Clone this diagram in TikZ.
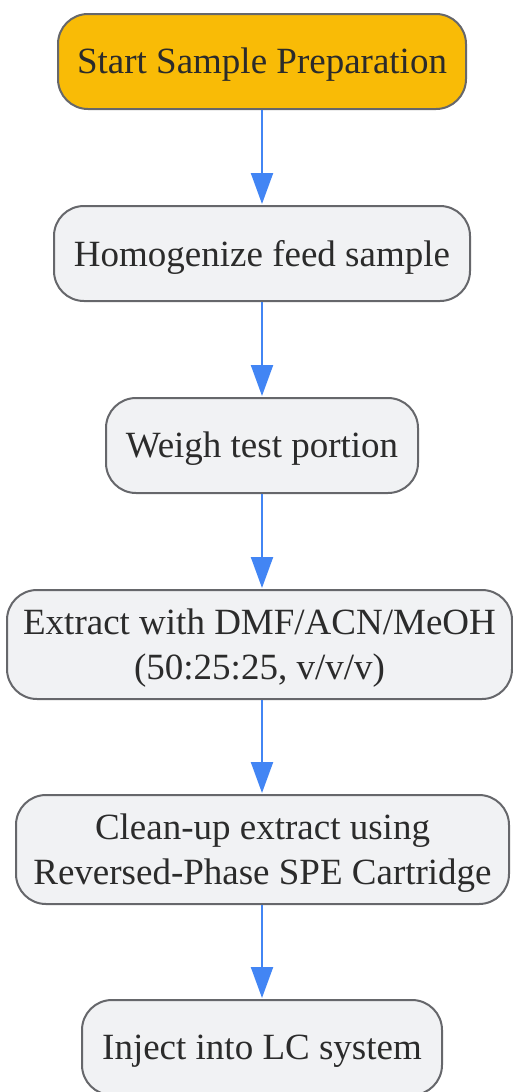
\documentclass[tikz,border=0pt]{standalone}
\usepackage{fontspec}
\setmainfont{Liberation Serif}
\usetikzlibrary{arrows.meta}
\definecolor{boxfill}{HTML}{F1F2F4}
\definecolor{boxline}{HTML}{66676B}
\definecolor{startfill}{HTML}{F9BB06}
\definecolor{arrowblue}{HTML}{4285F4}
\definecolor{txt}{HTML}{2B2B2B}
\tikzset{
  stepbox/.style={draw=boxline, line width=2pt, fill=boxfill, rounded corners=30pt, inner sep=0pt},
  startbox/.style={stepbox, fill=startfill},
  steptext/.style={align=center, text=txt, font=\fontsize{37}{45}\selectfont, inner sep=0pt, yshift=-3.5pt},
  flow/.style={draw=arrowblue, line width=2.2pt, -{Triangle[length=31pt,width=22pt]}, shorten >=1pt}
}
\begin{document}
\begin{tikzpicture}[x=1pt,y=-1pt]
\useasboundingbox (0,0) rectangle (513,1092);
\node[startbox, minimum width=408pt, minimum height=95pt] (n1) at (262,61.5) {};
\node[steptext] (t1) at (n1.center) {Start Sample Preparation};
\node[stepbox, minimum width=416pt, minimum height=95pt] (n2) at (262,253.5) {};
\node[steptext] (t2) at (n2.center) {Homogenize feed sample};
\node[stepbox, minimum width=312pt, minimum height=95pt] (n3) at (262,445.5) {};
\node[steptext] (t3) at (n3.center) {Weigh test portion};
\node[stepbox, minimum width=505pt, minimum height=109pt] (n4) at (259.5,644.5) {};
\node[steptext] (t4) at (n4.center) {Extract with DMF/ACN/MeOH\\(50:25:25, v/v/v)};
\node[stepbox, minimum width=493pt, minimum height=109pt] (n5) at (262.5,849.5) {};
\node[steptext] (t5) at (n5.center) {Clean-up extract using\\Reversed-Phase SPE Cartridge};
\node[stepbox, minimum width=360pt, minimum height=95pt] (n6) at (262,1047.5) {};
\node[steptext] (t6) at (n6.center) {Inject into LC system};
\draw[flow] (n1.south) -- (n2.north);
\draw[flow] (n2.south) -- (n3.north);
\draw[flow] (n3.south) -- (n3.south |- n4.north);
\draw[flow] (n3.south |- n4.south) -- (n3.south |- n5.north);
\draw[flow] (n3.south |- n5.south) -- (n6.north);
\end{tikzpicture}
\end{document}
